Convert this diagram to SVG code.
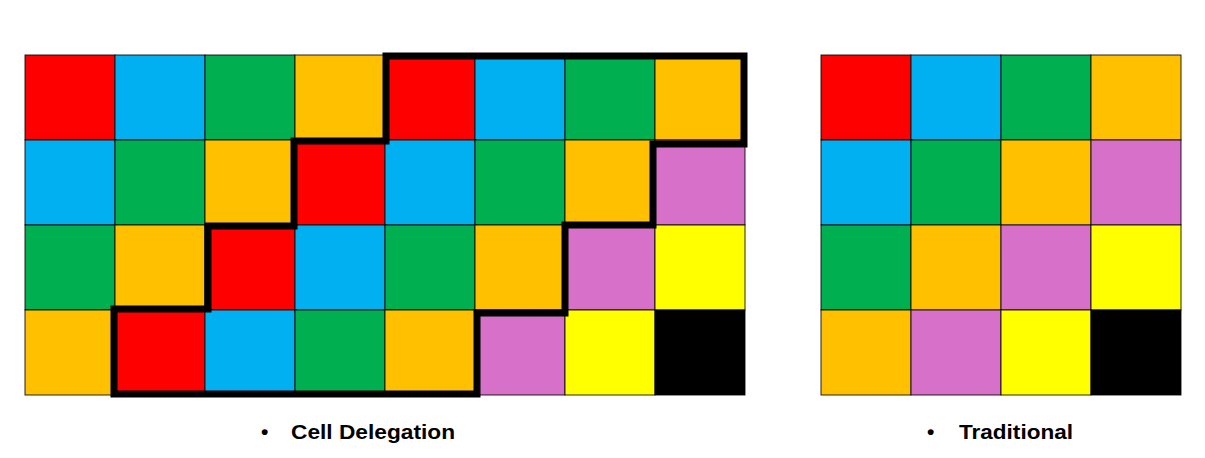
<svg xmlns="http://www.w3.org/2000/svg" width="1205" height="458" viewBox="0 0 1205 458">
<style>
.c{stroke:#000;stroke-opacity:0.85;stroke-width:1}
.r{fill:#FF0000}.b{fill:#00B0F0}.g{fill:#00B050}.o{fill:#FFC000}.p{fill:#D670C8}.y{fill:#FFFF00}.k{fill:#000000}
.lbl{font-family:"Liberation Sans",Arial,sans-serif;font-weight:bold;font-size:21px;fill:#000}
.outline{fill:none;stroke:#000;stroke-width:7;stroke-linejoin:miter;stroke-linecap:square}
</style>
<rect width="1205" height="458" fill="#fff"/>
<g id="cell-delegation-grid">
<rect class="c r" x="25" y="55" width="90" height="85"/>
<rect class="c b" x="115" y="55" width="90" height="85"/>
<rect class="c g" x="205" y="55" width="90" height="85"/>
<rect class="c o" x="295" y="55" width="90" height="85"/>
<rect class="c r" x="385" y="55" width="90" height="85"/>
<rect class="c b" x="475" y="55" width="90" height="85"/>
<rect class="c g" x="565" y="55" width="90" height="85"/>
<rect class="c o" x="655" y="55" width="90" height="85"/>
<rect class="c b" x="25" y="140" width="90" height="85"/>
<rect class="c g" x="115" y="140" width="90" height="85"/>
<rect class="c o" x="205" y="140" width="90" height="85"/>
<rect class="c r" x="295" y="140" width="90" height="85"/>
<rect class="c b" x="385" y="140" width="90" height="85"/>
<rect class="c g" x="475" y="140" width="90" height="85"/>
<rect class="c o" x="565" y="140" width="90" height="85"/>
<rect class="c p" x="655" y="140" width="90" height="85"/>
<rect class="c g" x="25" y="225" width="90" height="85"/>
<rect class="c o" x="115" y="225" width="90" height="85"/>
<rect class="c r" x="205" y="225" width="90" height="85"/>
<rect class="c b" x="295" y="225" width="90" height="85"/>
<rect class="c g" x="385" y="225" width="90" height="85"/>
<rect class="c o" x="475" y="225" width="90" height="85"/>
<rect class="c p" x="565" y="225" width="90" height="85"/>
<rect class="c y" x="655" y="225" width="90" height="85"/>
<rect class="c o" x="25" y="310" width="90" height="85"/>
<rect class="c r" x="115" y="310" width="90" height="85"/>
<rect class="c b" x="205" y="310" width="90" height="85"/>
<rect class="c g" x="295" y="310" width="90" height="85"/>
<rect class="c o" x="385" y="310" width="90" height="85"/>
<rect class="c p" x="475" y="310" width="90" height="85"/>
<rect class="c y" x="565" y="310" width="90" height="85"/>
<rect class="c k" x="655" y="310" width="90" height="85"/>
</g>
<g id="delegation-outline">
<polygon class="outline" points="386,56 744,56 744,144 653,144 653,225 565,225 565,313 477,313 477,394 114,394 114,309 208,309 208,226 294,226 294,141 386,141"/>
</g>
<g id="traditional-grid">
<rect class="c r" x="821" y="55" width="90" height="85"/>
<rect class="c b" x="911" y="55" width="90" height="85"/>
<rect class="c g" x="1001" y="55" width="90" height="85"/>
<rect class="c o" x="1091" y="55" width="90" height="85"/>
<rect class="c b" x="821" y="140" width="90" height="85"/>
<rect class="c g" x="911" y="140" width="90" height="85"/>
<rect class="c o" x="1001" y="140" width="90" height="85"/>
<rect class="c p" x="1091" y="140" width="90" height="85"/>
<rect class="c g" x="821" y="225" width="90" height="85"/>
<rect class="c o" x="911" y="225" width="90" height="85"/>
<rect class="c p" x="1001" y="225" width="90" height="85"/>
<rect class="c y" x="1091" y="225" width="90" height="85"/>
<rect class="c o" x="821" y="310" width="90" height="85"/>
<rect class="c p" x="911" y="310" width="90" height="85"/>
<rect class="c y" x="1001" y="310" width="90" height="85"/>
<rect class="c k" x="1091" y="310" width="90" height="85"/>
</g>
<g id="label-cell-delegation">
<text class="lbl" x="261" y="439">•</text>
<text class="lbl" x="291" y="439" textLength="164" lengthAdjust="spacingAndGlyphs">Cell Delegation</text>
</g>
<g id="label-traditional">
<text class="lbl" x="927" y="439">•</text>
<text class="lbl" x="959" y="439" textLength="114" lengthAdjust="spacingAndGlyphs">Traditional</text>
</g>
</svg>
